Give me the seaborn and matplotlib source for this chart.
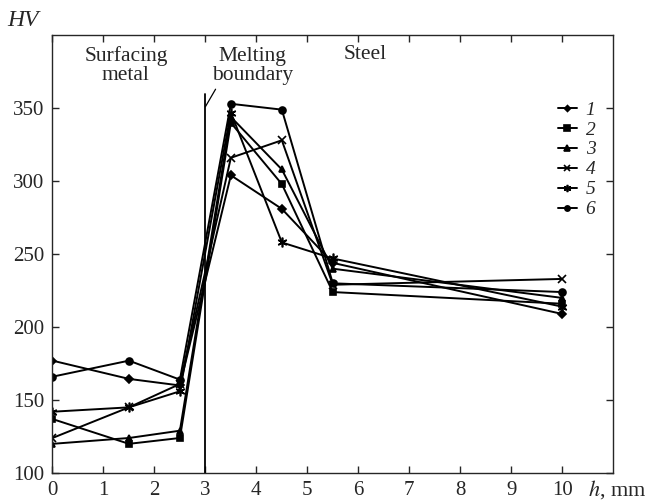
import matplotlib
matplotlib.use("Agg")
import matplotlib.pyplot as plt
import seaborn as sns
import pandas as pd

h = [0, 1.5, 2.5, 3.5, 4.5, 5.5, 10]
s1 = [177, 164.5, 160, 304, 281, 244, 209]
s2 = [137, 120, 124, 340, 298, 224, 216]
s3 = [120, 124, 129, 344, 308, 240, 220]
s4 = [124, 145, 161, 316, 328, 229, 233]
s5 = [142, 145, 156, 347, 258, 247, 214]
s6 = [166, 177, 164, 353, 349, 230, 224]
series_names = ["1", "2", "3", "4", "5", "6"]
series_vals = [s1, s2, s3, s4, s5, s6]
xticks = list(range(0, 11))
yticks = [100, 150, 200, 250, 300, 350]

sns.set_style("ticks")
plt.rcParams['font.family'] = ['Liberation Serif', 'DejaVu Serif']
plt.rcParams['mathtext.fontset'] = 'stix'

fig = plt.figure(figsize=(6.6, 5.03), dpi=100)
ax = fig.add_axes([0.0795, 0.0596, 0.929 - 0.0795, 0.930 - 0.0596])

markers = {"1": "D", "2": "s", "3": "^", "4": "x", "5": (6, 2, 0), "6": "o"}
sizes_m = {"1": 4, "2": 5, "3": 5, "4": 6, "5": 7, "6": 5}

for name, vals in zip(series_names, series_vals):
    d = pd.DataFrame({"h": h, "HV": vals})
    sns.lineplot(data=d, x="h", y="HV", ax=ax, color="black", linewidth=1.4,
                 marker=markers[name], markersize=sizes_m[name],
                 markeredgewidth=1.2, markeredgecolor="black",
                 markerfacecolor="black", label=name)

handles, labels = ax.get_legend_handles_labels()
if ax.get_legend() is not None:
    ax.get_legend().remove()

ax.set_xlim(0, 11)
ax.set_ylim(100, 400)
ax.set_xticks(xticks)
ax.set_yticks(yticks)
ax.set_xlabel("")
ax.set_ylabel("")
for sp in ax.spines.values():
    sp.set_visible(True)
    sp.set_linewidth(1.0)
ax.tick_params(direction="in", length=5, width=1, top=True, right=True,
               labelsize=15, pad=6)

# melting boundary line
ax.plot([3, 3], [100, 360], color="black", linewidth=1.3)
ax.plot([3.0, 3.2], [351, 363], color="black", linewidth=0.9)

ax.text(1.44, 379, "Surfacing\nmetal", ha="center", va="center", fontsize=15.5,
        linespacing=1.0)
ax.text(3.93, 379, "Melting\nboundary", ha="center", va="center", fontsize=15.5,
        linespacing=1.0)
ax.text(6.14, 387, "Steel", ha="center", va="center", fontsize=15.5)

leg = fig.legend(handles, labels, loc="upper left",
                 bbox_to_anchor=(557.5 / 660, 1 - 101 / 503),
                 frameon=False, fontsize=14, handlelength=1.0,
                 handletextpad=0.45, labelspacing=0.12, borderpad=0,
                 borderaxespad=0, markerscale=0.75)
for t in leg.get_texts():
    t.set_fontstyle("italic")

fig.text(7 / 660, 1 - 21 / 503, "HV", fontsize=17, fontstyle="italic",
         va="center", ha="left")
ax.text(10.5, -0.037, "$h$, mm", transform=ax.get_xaxis_transform(),
        fontsize=16, va="center", ha="left")

fig.savefig("out.png", dpi=100)
